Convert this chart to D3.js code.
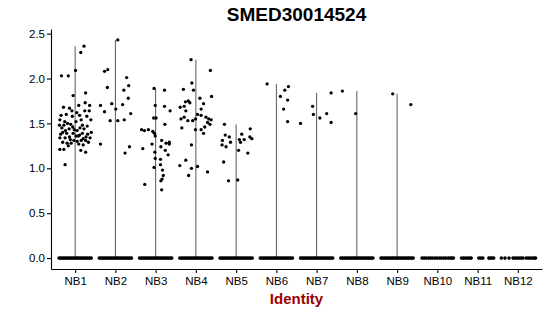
<!DOCTYPE html>
<html>
<head>
<meta charset="utf-8">
<script src="https://cdn.jsdelivr.net/npm/d3@7"></script>
<style>
  body { margin: 0; background: #fff; }
  text { font-family: "Liberation Sans", Arial, sans-serif; }
</style>
</head>
<body>
<div id="chart"></div>
<script>
// categories and axis ticks
var categories = ["NB1", "NB2", "NB3", "NB4", "NB5", "NB6", "NB7", "NB8", "NB9", "NB10", "NB11", "NB12"];
var yTicks = [0, 0.5, 1, 1.5, 2, 2.5];

// non-zero cells per identity: [jitter (fraction of a category step), expression]
var nb1 = [[0.22,2.36],[0.14,2.29],[-0.34,2.03],[-0.17,2.03],[0.01,2.09],[-0.05,1.81],[0.26,1.84],[-0.29,1.68],[0.09,1.70],[0.36,1.70],
  [-0.08,1.64],[0.24,1.64],[-0.35,1.59],[-0.07,1.58],[0.11,1.59],[0.29,1.58],[-0.38,1.54],[0.15,1.54],[0.39,1.54],
  [-0.19,1.50],[-0.11,1.49],[-0.39,1.48],[-0.28,1.48],[-0.06,1.46],[0.18,1.48],[0.22,1.44],[-0.15,1.44],[0.05,1.42],[0.40,1.40],[-0.31,1.40],[-0.21,1.39],
  [-0.38,1.34],[-0.25,1.34],[-0.14,1.35],[0.11,1.37],[0.18,1.39],[0.27,1.35],[0.37,1.34],
  [-0.03,1.31],[0.05,1.30],[0.15,1.31],[0.26,1.31],[-0.31,1.29],[-0.20,1.28],[-0.10,1.28],
  [-0.38,1.21],[-0.28,1.21],[0.14,1.20],[0.26,1.18],[-0.25,1.04],
  [-0.33,1.45],[-0.24,1.42],[-0.02,1.43],[0.08,1.36],[0.20,1.33],[0.31,1.38],[-0.12,1.32],[0.02,1.36],[-0.36,1.38],
  [0.12,1.45],[0.30,1.47],[-0.26,1.52],[0.02,1.52],[0.33,1.29],[-0.17,1.25],[0.09,1.27],[0.20,1.26],[-0.05,1.39],
  [0.35,1.64],[-0.22,1.60],[0.04,1.62],[-0.14,1.67],[0.25,1.73]];
var nb2 = [[0.06,2.43],[-0.27,2.08],[-0.19,2.10],[0.28,2.01],[0.33,1.92],[-0.20,1.90],[0.21,1.87],[0.32,1.78],[-0.37,1.70],[-0.09,1.72],
  [0.18,1.71],[-0.27,1.63],[0.01,1.66],[0.38,1.61],[-0.13,1.53],[0.06,1.53],[0.22,1.54],[-0.37,1.27],[0.35,1.24],[0.24,1.17]];
var nb3 = [[-0.04,1.89],[0.22,1.87],[-0.01,1.70],[0.22,1.69],[0.36,1.64],[-0.05,1.56],[0.01,1.56],[0.23,1.49],
  [-0.35,1.43],[-0.28,1.42],[-0.18,1.43],[-0.07,1.41],[-0.03,1.39],[-0.01,1.36],[0.15,1.31],[0.26,1.28],[0.34,1.29],[0.34,1.27],
  [-0.32,1.22],[-0.09,1.27],[0.13,1.24],[0.24,1.20],[0.31,1.15],[-0.02,1.18],[-0.01,1.11],[0.12,1.10],[0.12,1.04],
  [-0.04,1.01],[0.17,0.98],[0.19,0.92],[0.16,0.88],[0.13,0.86],[-0.27,0.82],[0.15,0.76]];
var nb4 = [[-0.12,2.21],[0.36,2.09],[-0.10,1.95],[-0.31,1.88],[-0.06,1.87],[0.39,1.80],[0.10,1.78],
  [-0.26,1.74],[-0.19,1.75],[-0.15,1.73],[-0.39,1.68],[-0.29,1.69],[0.19,1.72],[-0.25,1.64],[0.13,1.66],
  [0.04,1.60],[0.13,1.59],[0.25,1.57],[0.32,1.55],[0.38,1.54],[-0.37,1.55],[-0.29,1.57],[-0.20,1.53],[-0.08,1.53],[-0.01,1.55],
  [0.29,1.51],[0.35,1.49],[-0.35,1.45],[-0.01,1.43],[0.13,1.43],[0.22,1.46],[0.19,1.39],[-0.11,1.26],
  [-0.25,1.09],[-0.40,1.03],[-0.11,1.00],[0.04,1.02],[-0.18,0.92],[0.29,0.96]];
var nb5 = [[-0.29,1.49],[-0.27,1.37],[-0.17,1.35],[-0.34,1.31],[-0.14,1.29],[-0.35,1.26],[-0.25,1.24],[0.35,1.44],
  [0.14,1.38],[0.34,1.35],[0.39,1.33],[0.08,1.32],[0.20,1.32],[0.11,1.29],[0.06,1.20],[0.29,1.17],[-0.31,1.07],[-0.19,0.86],[0.04,0.87]];
var nb6 = [[-0.23,1.94],[0.30,1.91],[0.21,1.87],[0.10,1.80],[0.28,1.76],[0.18,1.66],[0.28,1.52]];
var nb7 = [[-0.40,1.50],[-0.10,1.69],[0.36,1.84],[-0.08,1.60],[0.08,1.56],[0.25,1.61],[0.36,1.51]];
var nb8 = [[-0.36,1.86],[-0.03,1.61]];
var nb9 = [[-0.11,1.83],[0.34,1.71]];
var nb10 = [], nb11 = [], nb12 = [];

// zero-expression cells: jitter positions seen along the baseline
var zeroDense = [-0.40,-0.36,-0.32,-0.28,-0.24,-0.20,-0.16,-0.12,-0.08,-0.04,0,0.04,0.08,0.12,0.16,0.20,0.24,0.28,0.32,0.36,0.40];
var zero10 = [-0.38,-0.33,-0.28,-0.22,-0.17,-0.12,-0.06,-0.01,0.05,0.10,0.16,0.21,0.27,0.32,0.36,0.40];
var zero11 = [-0.40,-0.35,-0.30,-0.25,-0.20,-0.16,0.03,0.08,0.13,0.28,0.32,0.36,0.40];
var zero12 = [-0.41,-0.32,-0.22,-0.12,-0.07,-0.02,0.03,0.08,0.13,0.21,0.26,0.31,0.36,0.41,0.44];

var cells = [nb1, nb2, nb3, nb4, nb5, nb6, nb7, nb8, nb9, nb10, nb11, nb12];
var zeros = [zeroDense, zeroDense, zeroDense, zeroDense, zeroDense, zeroDense, zeroDense, zeroDense, zeroDense, zero10, zero11, zero12];

// set the dimensions and margins of the graph
var margin = { top: 29, right: 8, bottom: 47, left: 51 },
    width = 550 - margin.left - margin.right,
    height = 316 - margin.top - margin.bottom;

var svgRoot = d3.select("#chart")
    .append("svg")
    .attr("width", 550)
    .attr("height", 316);

var svg = svgRoot.append("g")
    .attr("transform", "translate(" + margin.left + "," + margin.top + ")");

// scales
var x = d3.scalePoint()
    .domain(categories)
    .range([0, width])
    .padding(0.6);
var step = x.step();

var ymax = d3.max(cells, function(g) { return d3.max(g, function(d) { return d[1]; }) || 0; });
var y = d3.scaleLinear()
    .domain([-0.05 * ymax, 1.05 * ymax])
    .range([height, 0]);

// violins: with nearly all cells at zero they collapse to a line from 0 to max
svg.append("g")
    .selectAll("line")
    .data(categories.filter(function(c, i) { return cells[i].length > 0; }))
    .enter()
    .append("line")
    .attr("x1", function(c) { return x(c); })
    .attr("x2", function(c) { return x(c); })
    .attr("y1", y(0))
    .attr("y2", function(c) {
        var g = cells[categories.indexOf(c)];
        return y(d3.max(g, function(d) { return d[1]; }));
    })
    .attr("stroke", "#444")
    .attr("stroke-width", 0.9);

// zero points
var zeroPts = [];
categories.forEach(function(c, i) {
    zeros[i].forEach(function(j) { zeroPts.push({ cat: c, j: j, v: 0 }); });
});
var pts = [];
categories.forEach(function(c, i) {
    cells[i].forEach(function(d) { pts.push({ cat: c, j: d[0], v: d[1] }); });
});

svg.append("g")
    .selectAll("circle")
    .data(zeroPts)
    .enter()
    .append("circle")
    .attr("cx", function(d) { return x(d.cat) + d.j * step; })
    .attr("cy", function(d) { return y(d.v); })
    .attr("r", 1.8)
    .attr("fill", "#000");

svg.append("g")
    .selectAll("circle")
    .data(pts)
    .enter()
    .append("circle")
    .attr("cx", function(d) { return x(d.cat) + d.j * step; })
    .attr("cy", function(d) { return y(d.v); })
    .attr("r", 1.65)
    .attr("fill", "#000");

// axes
var yAxis = svg.append("g")
    .call(d3.axisLeft(y).tickValues(yTicks).tickSize(4).tickSizeOuter(0).tickPadding(2)
        .tickFormat(d3.format(".1f")));
var xAxis = svg.append("g")
    .attr("transform", "translate(0," + height + ")")
    .call(d3.axisBottom(x).tickSize(4).tickSizeOuter(0).tickPadding(4));

[xAxis, yAxis].forEach(function(a) {
    a.select(".domain").attr("stroke", "#000").attr("stroke-width", 1.1);
    a.selectAll(".tick line").attr("stroke", "#000").attr("stroke-width", 1.1);
    a.selectAll(".tick text")
        .attr("fill", "#000")
        .style("font-size", "11.5px")
        .style("font-family", "'Liberation Sans', Arial, sans-serif");
});

// title
svgRoot.append("text")
    .attr("x", margin.left + width / 2)
    .attr("y", 21)
    .attr("text-anchor", "middle")
    .style("font-size", "19px")
    .style("font-weight", "bold")
    .text("SMED30014524");

// X axis label
svgRoot.append("text")
    .attr("x", margin.left + width / 2)
    .attr("y", 303.5)
    .attr("text-anchor", "middle")
    .style("font-size", "15px")
    .style("font-weight", "bold")
    .attr("fill", "#990000")
    .text("Identity");
</script>
</body>
</html>
